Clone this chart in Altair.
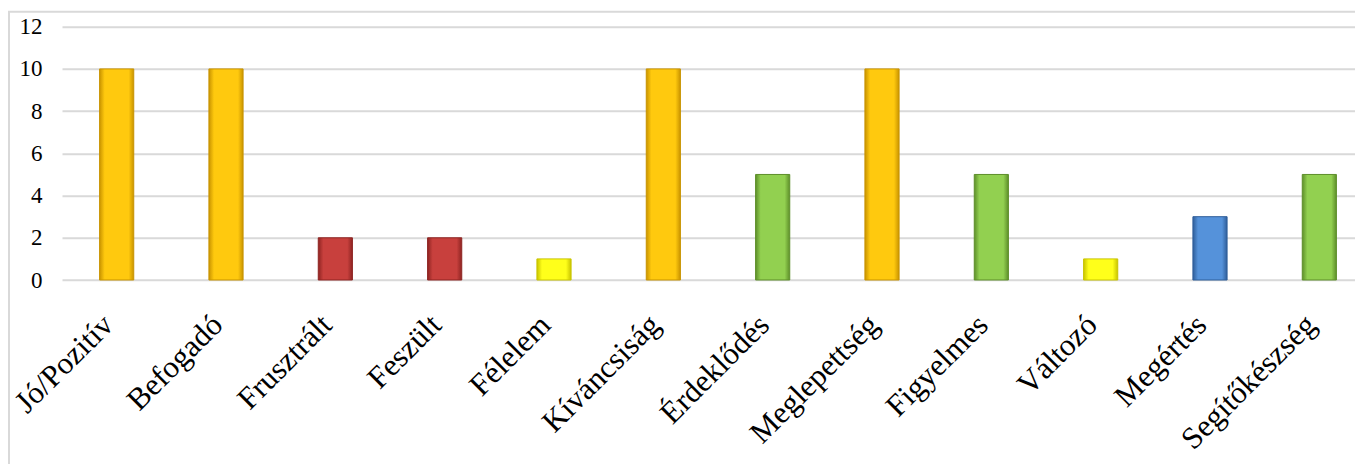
import altair as alt
import pandas as pd

categories = ["Jó/Pozitív", "Befogadó", "Frusztrált", "Feszült", "Félelem", "Kíváncsiság",
              "Érdeklődés", "Meglepettség", "Figyelmes", "Változó", "Megértés", "Segítőkészség"]
values = [10, 10, 2, 2, 1, 10, 5, 10, 5, 1, 3, 5]
groups = ["gold", "gold", "red", "red", "yellow", "gold", "green", "gold", "green", "yellow", "blue", "green"]
y_ticks = [0, 2, 4, 6, 8, 10, 12]

palette = {
    "gold":   ("#FFC90E", "#C99400", "#FFD94A"),
    "red":    ("#C8403D", "#8E2422", "#E06A66"),
    "yellow": ("#FFFF1A", "#C9C400", "#FFFF80"),
    "green":  ("#92D050", "#5E8F2A", "#B5E57F"),
    "blue":   ("#5592DA", "#2F5E9A", "#86B6EC"),
}

df = pd.DataFrame({"cat": categories, "val": values, "grp": groups})

FONT = "Times New Roman, Liberation Serif, serif"
PLOT_W = 1293

x_enc = alt.X("cat:N", sort=categories,
              scale=alt.Scale(domain=categories, range=[0, 1312],
                              paddingInner=0.6875, paddingOuter=0.34375),
              axis=alt.Axis(title=None, labelAngle=-45, labelAlign="right", labelBaseline="middle",
                            labelFont=FONT, labelFontSize=31,
                            labelColor="#000000", ticks=False, domain=False,
                            labelPadding=40, labelOffset=-8, grid=False, labelOverlap=False,
                            labelLimit=400))
y_enc = alt.Y("val:Q", scale=alt.Scale(domain=[0, 12], nice=False),
              axis=alt.Axis(title=None, values=y_ticks, labelFont=FONT, labelFontSize=23,
                            labelColor="#000000", ticks=False, domain=False, grid=True,
                            gridColor="#d9d9d9", gridWidth=2, labelPadding=20))

layers = []
frame = alt.Chart(pd.DataFrame({"f": [0]})).mark_rect(
    filled=False, stroke="#d9d9d9", strokeWidth=2
).encode(x=alt.value(-53), x2=alt.value(1330), y=alt.value(-15), y2=alt.value(520))
layers.append(frame)

base_axes = alt.Chart(df).mark_bar(opacity=0).encode(x=x_enc, y=y_enc)
layers.append(base_axes)

for g, (mid, dark, light) in palette.items():
    grad = alt.LinearGradient(
        gradient="linear", x1=0, x2=1, y1=0, y2=0,
        stops=[alt.GradientStop(offset=0, color=dark),
               alt.GradientStop(offset=0.15, color=mid),
               alt.GradientStop(offset=0.5, color=mid),
               alt.GradientStop(offset=0.85, color=mid),
               alt.GradientStop(offset=1, color=dark)])
    layer = alt.Chart(df).transform_filter(alt.datum.grp == g).mark_bar(
        color=grad, stroke=dark, strokeWidth=1
    ).encode(x=x_enc, y=y_enc)
    layers.append(layer)

chart = alt.layer(*layers).properties(
    width=PLOT_W, height=253.3,
    autosize=alt.AutoSizeParams(type="none"),
    padding={"left": 54, "top": 18.7, "right": 0, "bottom": 184},
    background="white",
).configure_view(stroke=None)

chart.save("out.html", embed_options={"renderer": "svg", "actions": False})
